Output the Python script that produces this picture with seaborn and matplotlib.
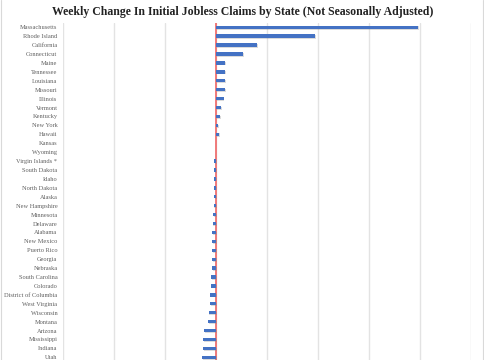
import matplotlib
matplotlib.use("Agg")
import matplotlib.pyplot as plt
import matplotlib.patheffects as pe
from matplotlib.lines import Line2D
import seaborn as sns
import pandas as pd

states = ["Massachusetts", "Rhode Island", "California", "Connecticut", "Maine",
          "Tennessee", "Louisiana", "Missouri", "Illinois", "Vermont", "Kentucky",
          "New York", "Hawaii", "Kansas", "Wyoming", "Virgin Islands *",
          "South Dakota", "Idaho", "North Dakota", "Alaska", "New Hampshire",
          "Minnesota", "Delaware", "Alabama", "New Mexico", "Puerto Rico",
          "Georgia", "Nebraska", "South Carolina", "Colorado",
          "District of Columbia", "West Virginia", "Wisconsin", "Montana",
          "Arizona", "Mississippi", "Indiana", "Utah"]
changes = [19800, 9700, 4000, 2650, 910, 910, 900, 850, 750, 490, 420, 230, 290,
           0, 20, -170, -170, -200, -200, -220, -240, -260, -330, -360, -390,
           -400, -400, -420, -490, -500, -590, -620, -720, -750, -1180, -1300,
           -1300, -1400]
x_ticks = [-15000, -10000, -5000, 0, 5000, 10000, 15000, 20000, 25000]

df = pd.DataFrame({"state": states, "change": changes})

sns.set_style("white")
plt.rcParams["font.family"] = ["Liberation Serif", "DejaVu Serif"]

fig = plt.figure(figsize=(4.85, 3.6), dpi=100)
ax = fig.add_axes([63 / 485, 0.0, (471 - 63) / 485, 1 - 22.8 / 360])

sns.barplot(data=df, x="change", y="state", orient="h", color="#4472C4",
            saturation=1, width=0.38, ax=ax, zorder=3)
for p in ax.patches:
    p.set_path_effects([pe.SimplePatchShadow(offset=(0.6, -0.6), shadow_rgbFace="#888888", alpha=0.3),
                        pe.Normal()])
    p.set_linewidth(0)

ax.set_xlim(-15000, 25000)
ax.set_ylim(37.3, -0.5)
ax.set_xticks(x_ticks)
ax.xaxis.grid(True, color="#E3E3E3", linewidth=1.0, zorder=0)
ax.set_axisbelow(True)
ax.axvline(0, color="#F07070", linewidth=1.3, zorder=2.5)
ax.set_xlabel("")
ax.set_ylabel("")
ax.tick_params(axis="x", labelbottom=False, length=0)
ax.tick_params(axis="y", length=0, pad=4, labelsize=4.6, labelcolor="#606060")
for s in ax.spines.values():
    s.set_visible(False)

fig.text(0.5, 1 - 11.5 / 360, "Weekly Change In Initial Jobless Claims by State (Not Seasonally Adjusted)",
         ha="center", va="center", fontsize=8.5, fontweight="bold", color="#222222")

fig.add_artist(Line2D([0.5 / 485, 0.5 / 485], [0, 1], transform=fig.transFigure,
                      color="#D9D9D9", linewidth=0.8))
fig.add_artist(Line2D([483 / 485, 483 / 485], [0, 1], transform=fig.transFigure,
                      color="#D9D9D9", linewidth=0.8))

fig.savefig("out.png", dpi=100)
